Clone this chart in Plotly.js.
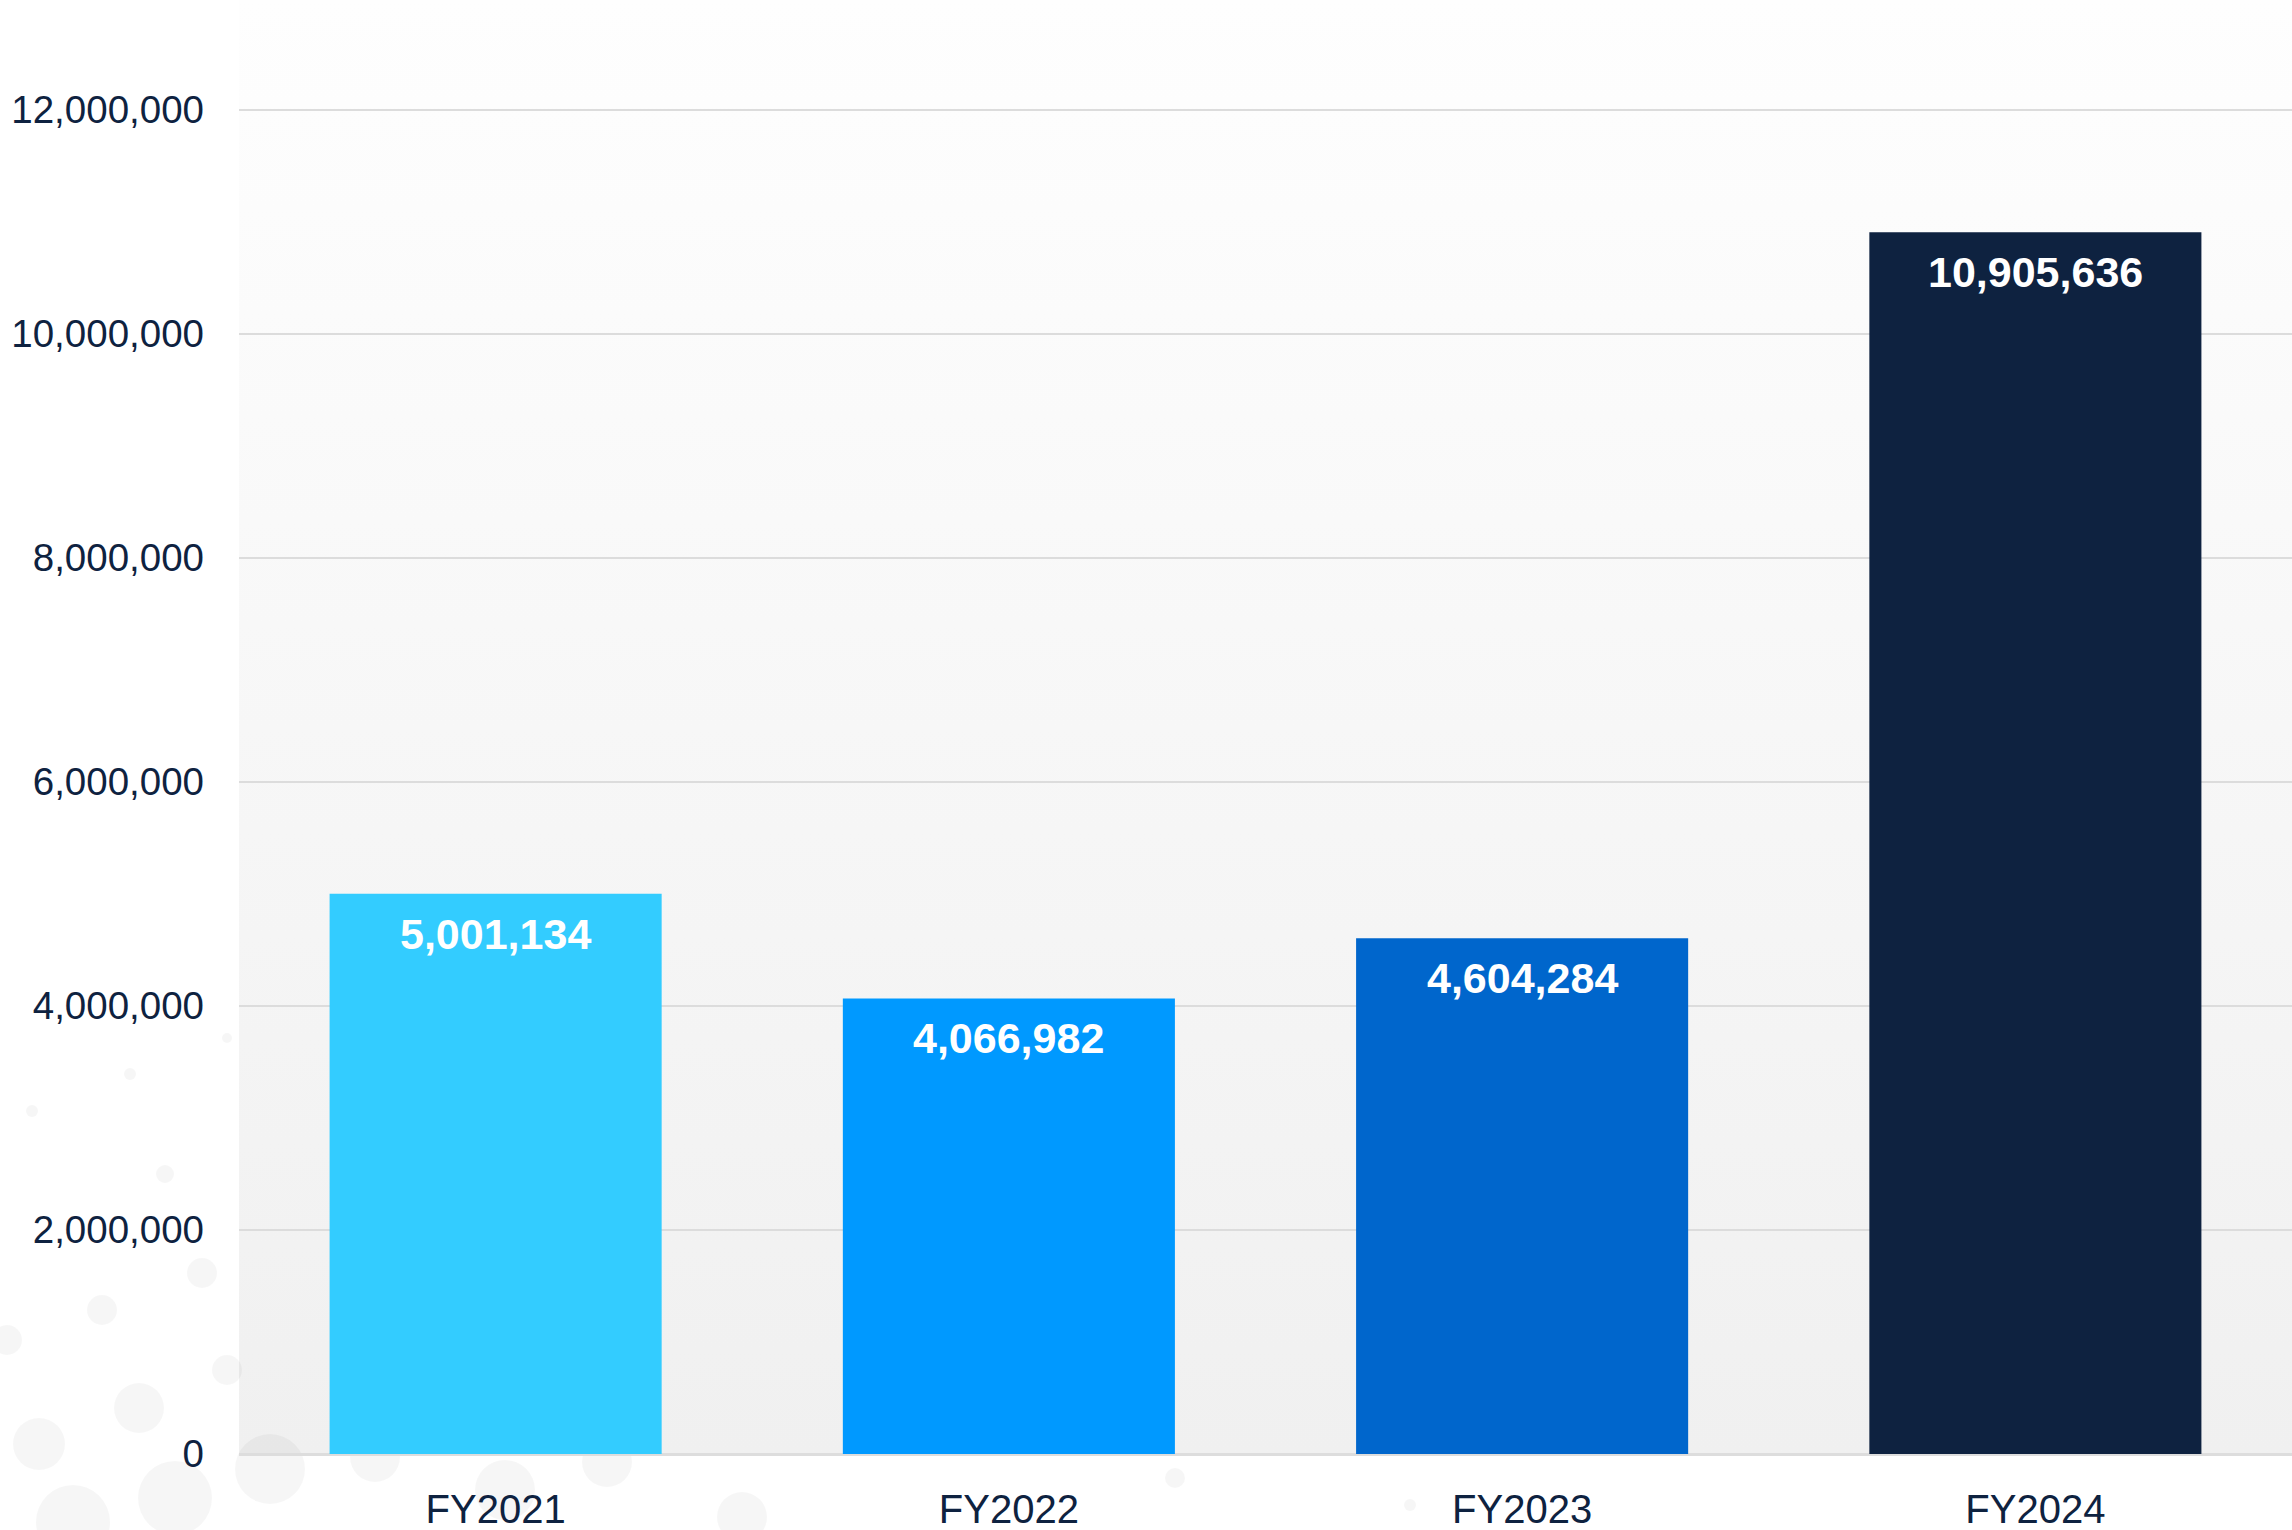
<!DOCTYPE html>
<html>
<head>
<meta charset="utf-8">
<script src="https://cdn.plot.ly/plotly-3.0.1.min.js"></script>
<style>
html,body{margin:0;padding:0;background:#ffffff;}
#chart{width:2292px;height:1530px;}
</style>
</head>
<body>
<div id="chart"></div>
<script>
// ---- data ----
const categories = ["FY2021", "FY2022", "FY2023", "FY2024"];
const values = [5001134, 4066982, 4604284, 10905636];
const barColors = ["#33CCFF", "#0099FF", "#0066CC", "#0E2240"];
const yTickVals = [0, 2000000, 4000000, 6000000, 8000000, 10000000, 12000000];
const yTickText = ["0", "2,000,000", "4,000,000", "6,000,000", "8,000,000", "10,000,000", "12,000,000"];

// ---- layout constants ----
const W = 2292, H = 1530;
const M = {l: 239, r: 0, t: 0, b: 76};
const navy = "#0E2240";

function fmt(v){ return v.toLocaleString("en-US"); }

// gradient background for plot area (SVG data URI)
const gradSvg = '<svg xmlns="http://www.w3.org/2000/svg" width="100" height="100" preserveAspectRatio="none">' +
  '<defs><linearGradient id="g" x1="0" y1="0" x2="0" y2="1">' +
  '<stop offset="0" stop-color="#fefefe"/><stop offset="1" stop-color="#f0f0f0"/>' +
  '</linearGradient></defs><rect width="100" height="100" fill="url(#g)"/></svg>';
const gradUri = "data:image/svg+xml;base64," + btoa(gradSvg);

// faint decorative circles (pixel centres / radii of the background pattern)
const decoCircles = [
  [39,1444,26],[139,1408,25],[102,1310,15],[202,1273,15],[165,1174,9],
  [130,1074,6],[32,1111,6],[227,1038,5],[7,1340,15],[227,1370,15],
  [175,1498,37],[73,1522,37],[270,1469,35],[375,1457,25],[505,1490,30],
  [607,1462,25],[742,1517,25],[1175,1478,10],[1410,1505,6]
];
const pw = W - M.l - M.r, ph = H - M.t - M.b;
const shapes = decoCircles.map(c => {
  const [cx, cy, r] = c;
  return {
    type: "circle", xref: "paper", yref: "paper", layer: "below",
    x0: (cx - r - M.l) / pw, x1: (cx + r - M.l) / pw,
    y0: (H - M.b - (cy + r)) / ph, y1: (H - M.b - (cy - r)) / ph,
    fillcolor: "rgba(0,0,0,0.035)", line: {width: 0}
  };
});

const trace = {
  type: "bar",
  x: categories,
  y: values,
  marker: {color: barColors, line: {width: 0}},
  hoverinfo: "x+y"
};

const annotations = categories.map((c, i) => ({
  x: c, y: values[i], xref: "x", yref: "y",
  text: fmt(values[i]),
  showarrow: false,
  yanchor: "middle",
  yshift: -40,
  font: {family: "Liberation Sans, Arial, sans-serif", size: 43, color: "#ffffff", weight: 700}
}));

const layout = {
  width: W, height: H,
  margin: M,
  paper_bgcolor: "#ffffff",
  plot_bgcolor: "rgba(0,0,0,0)",
  showlegend: false,
  bargap: 0.353,
  font: {family: "Liberation Sans, Arial, sans-serif", color: navy},
  xaxis: {
    type: "category",
    range: [-0.5, 3.5],
    showgrid: false,
    zeroline: false,
    showline: false,
    ticks: "",
    ticklabelstandoff: 28,
    tickfont: {size: 40, color: navy, family: "Liberation Sans, Arial, sans-serif"},
    fixedrange: true
  },
  yaxis: {
    range: [0, 12980000],
    tickvals: yTickVals,
    ticktext: yTickText,
    showgrid: true,
    gridcolor: "#dcdcdc",
    gridwidth: 2,
    zeroline: true,
    zerolinecolor: "#dddddd",
    zerolinewidth: 3,
    showline: false,
    ticks: "",
    ticklabelstandoff: 34,
    tickfont: {size: 38.5, color: navy, family: "Liberation Sans, Arial, sans-serif"},
    fixedrange: true
  },
  images: [{
    source: gradUri, xref: "paper", yref: "paper",
    x: 0, y: 1, sizex: 1, sizey: 1, sizing: "stretch",
    xanchor: "left", yanchor: "top", layer: "below"
  }],
  shapes: shapes,
  annotations: annotations
};

Plotly.newPlot("chart", [trace], layout, {displayModeBar: false, staticPlot: true});
</script>
</body>
</html>
